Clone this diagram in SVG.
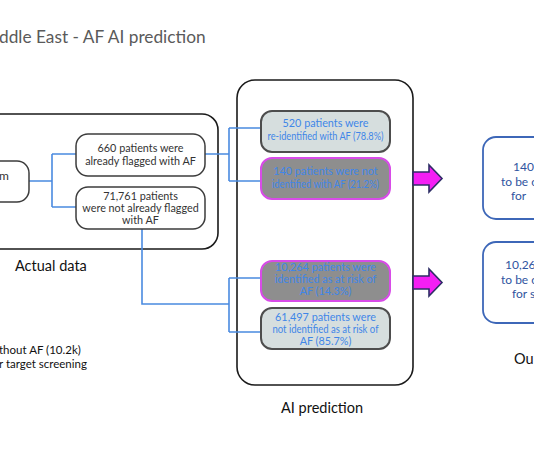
<svg xmlns="http://www.w3.org/2000/svg" width="534" height="462" viewBox="0 0 534 462">
<style>
text{font-family:Lato,"Liberation Sans",sans-serif}
.frame{fill:#fff;stroke:#1a1a1a;stroke-width:1.6}
.node{fill:#fff;stroke:#3c3c3c;stroke-width:1.5}
.nt{font-size:10.8px;fill:#333;text-anchor:middle}
.ok{fill:#d6dede;stroke:#4d4d4d;stroke-width:2}
.warn{fill:#8e8e8e;stroke:#d84be8;stroke-width:2}
.bt{font-size:10.8px;fill:#3f86e8;text-anchor:middle}
.out{fill:#fff;stroke:#3d67b8;stroke-width:1.8}
.ot{font-size:12px;fill:#2f54a0}
.lab{font-size:14.5px;fill:#111}
.con{fill:none;stroke:#4a8ae0;stroke-width:1.6}
.arr{fill:#f41ef4;stroke:#2e2e66;stroke-width:1.6}
</style>
<rect width="534" height="462" fill="#fff"/>
<text x="-1" y="43" style="font-size:17.3px;fill:#5a5a5a">ddle East - AF AI prediction</text>

<g id="actual-data">
<rect class="frame" x="-30" y="114" width="248" height="135" rx="16"/>
<text class="lab" x="15" y="271">Actual data</text>
</g>
<g id="ai-prediction">
<rect class="frame" x="237" y="80" width="176" height="305" rx="18"/>
<text class="lab" x="322" y="413" text-anchor="middle">AI prediction</text>
</g>

<g id="connectors">
<path class="con" d="M29 181H52M52 154V207M52 154H77M52 207H77"/>
<path class="con" d="M205 154H229M229 128V181M229 128H262M229 181H262"/>
<path class="con" d="M142 229V304H229M229 278V332M229 278H262M229 332H262"/>
<path class="arr" d="M413 172H429V165L442 178.5L429 192V185H413Z"/>
<path class="arr" d="M413 276H429V269L442 282.5L429 296V289H413Z"/>
</g>

<g id="source">
<rect class="node" x="-40" y="161" width="69" height="41" rx="12"/>
<text class="nt" x="4" y="180" style="font-size:12px">m</text>
</g>
<g id="flagged">
<rect class="node" x="76" y="134" width="129" height="42" rx="12"/>
<text class="nt" x="140.5" y="152">660 patients were</text>
<text class="nt" x="140.5" y="165">already flagged with AF</text>
</g>
<g id="not-flagged">
<rect class="node" x="76" y="187" width="129" height="42" rx="12"/>
<text class="nt" x="140.5" y="200">71,761 patients</text>
<text class="nt" x="140.5" y="212">were not already flagged</text>
<text class="nt" x="140.5" y="224">with AF</text>
</g>
<g id="reidentified">
<rect class="ok" x="261" y="111" width="129" height="41" rx="11"/>
<text class="bt" x="325.5" y="127">520 patients were</text>
<text class="bt" x="325.5" y="140" textLength="116" lengthAdjust="spacingAndGlyphs">re-identified with AF (78.8%)</text>
</g>
<g id="not-identified">
<rect class="warn" x="261" y="158" width="129" height="41" rx="11"/>
<text class="bt" x="325.5" y="175">140 patients were not</text>
<text class="bt" x="325.5" y="188" textLength="107" lengthAdjust="spacingAndGlyphs">identified with AF (21.2%)</text>
</g>
<g id="at-risk">
<rect class="warn" x="261" y="261" width="129" height="40" rx="11"/>
<text class="bt" x="325.5" y="271">10,264 patients were</text>
<text class="bt" x="325.5" y="283">identified as at risk of</text>
<text class="bt" x="325.5" y="295">AF (14.3%)</text>
</g>
<g id="not-at-risk">
<rect class="ok" x="261" y="308" width="129" height="41" rx="11"/>
<text class="bt" x="325.5" y="321">61,497 patients were</text>
<text class="bt" x="325.5" y="333" textLength="106" lengthAdjust="spacingAndGlyphs">not identified as at risk of</text>
<text class="bt" x="325.5" y="345">AF (85.7%)</text>
</g>
<g id="outcome-1">
<rect class="out" x="483" y="137" width="120" height="82" rx="13"/>
<text class="ot" x="513" y="171">140</text>
<text class="ot" x="501" y="186">to be c</text>
<text class="ot" x="511" y="200">for</text>
</g>
<g id="outcome-2">
<rect class="out" x="483" y="242" width="120" height="81" rx="13"/>
<text class="ot" x="505" y="269">10,26</text>
<text class="ot" x="501" y="284">to be c</text>
<text class="ot" x="512" y="298">for s</text>
</g>
<text class="lab" x="514" y="364">Ou</text>

<g id="legend">
<text x="-1" y="354" style="font-size:11.5px;fill:#111">thout AF (10.2k)</text>
<text x="-1" y="368" style="font-size:11.5px;fill:#111">r target screening</text>
</g>
</svg>
